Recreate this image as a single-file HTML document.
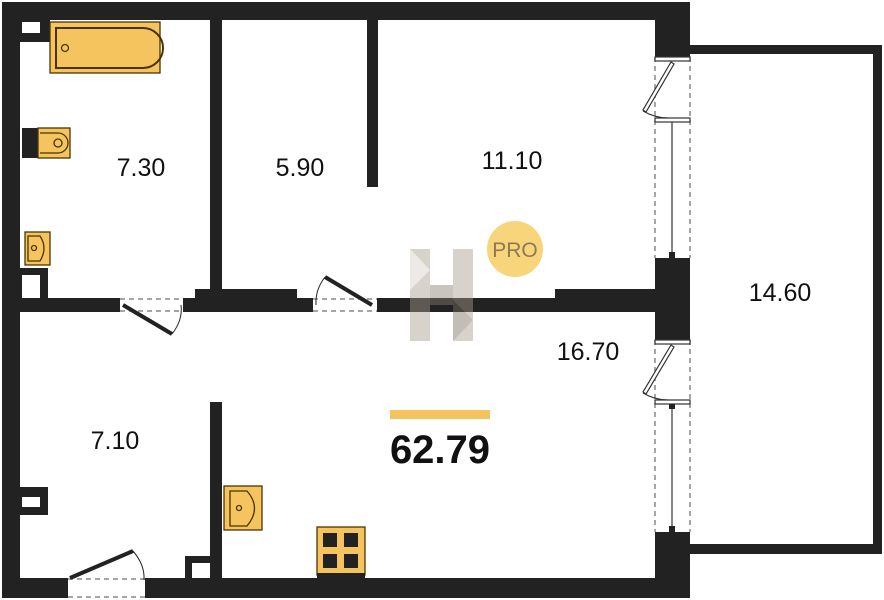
<!DOCTYPE html>
<html><head><meta charset="utf-8"><style>
html,body{margin:0;padding:0;background:#fff;width:884px;height:600px;overflow:hidden}
text{font-family:"Liberation Sans",sans-serif;fill:#111}
</style></head><body>
<svg width="884" height="600" viewBox="0 0 884 600" xmlns="http://www.w3.org/2000/svg">
<g fill="#222">
<rect x="2" y="2" width="688" height="18"/>
<rect x="2" y="2" width="18" height="596"/>
<rect x="2" y="578" width="66" height="20"/>
<rect x="145" y="578" width="545" height="20"/>
<rect x="655" y="2" width="35" height="55"/>
<rect x="655" y="258" width="35" height="82"/>
<rect x="655" y="532" width="35" height="66"/>
<rect x="690" y="45" width="192" height="9"/>
<rect x="873" y="45" width="9" height="509"/>
<rect x="690" y="544" width="192" height="10"/>
<rect x="210" y="20" width="12" height="278"/>
<rect x="367" y="20" width="11" height="167"/>
<rect x="20" y="298" width="100" height="14"/>
<rect x="183" y="298" width="130" height="14"/>
<rect x="195" y="289" width="102" height="12"/>
<rect x="377" y="298" width="278" height="14"/>
<rect x="555" y="289" width="100" height="12"/>
<rect x="210" y="402" width="12" height="178"/>
<rect x="20" y="20" width="30" height="22"/>
<rect x="20" y="268" width="28" height="32"/>
<rect x="20" y="487" width="28" height="28"/>
<rect x="185" y="556" width="27" height="24"/>
<rect x="22" y="128" width="16" height="30"/>
</g>
<g fill="#fff">
<rect x="22" y="22" width="18" height="11"/>
<rect x="22" y="275" width="18" height="23"/>
<rect x="22" y="497" width="18" height="10"/>
<rect x="192" y="563" width="18" height="15"/>
</g>
<g stroke="#888" stroke-dasharray="5,4" fill="none" stroke-width="1.5">
<line x1="120" y1="299" x2="183" y2="299"/><line x1="120" y1="311" x2="183" y2="311"/>
<line x1="313" y1="299" x2="377" y2="299"/><line x1="313" y1="311" x2="377" y2="311"/>
<line x1="68" y1="579" x2="145" y2="579"/><line x1="68" y1="597" x2="145" y2="597"/>
<line x1="655" y1="57" x2="655" y2="258"/><line x1="690" y1="57" x2="690" y2="258"/>
<line x1="655" y1="340" x2="655" y2="532"/><line x1="690" y1="340" x2="690" y2="532"/>
</g>
<g stroke="#222" stroke-width="4" fill="none">
<line x1="123" y1="305" x2="172" y2="334"/>
<line x1="372" y1="305" x2="325" y2="277"/>
<line x1="70" y1="578" x2="133" y2="551"/>
</g>
<g stroke="#222" stroke-width="1" fill="none">
<path d="M172 334 Q183 320 181 305"/>
<path d="M325 277 Q315 290 316 305"/>
<path d="M133 551 Q145 565 144 580"/>
</g>
<g stroke="#333" stroke-width="1.2" fill="#fff">
<rect x="655" y="57" width="35" height="4"/><rect x="655" y="118" width="35" height="4"/>
<rect x="655" y="340" width="35" height="4"/><rect x="655" y="400" width="35" height="4"/>
<path d="M671 62 L643 110 L646 112 L674 64 Z"/>
<path d="M671 345 L643 392 L646 394 L674 347 Z"/>
<path d="M643 111 Q655 118 668 118" fill="none"/>
<path d="M643 393 Q655 400 668 400" fill="none"/>
<line x1="672" y1="122" x2="672" y2="255"/>
<line x1="672" y1="404" x2="672" y2="530"/>
</g>
<g fill="#222"><rect x="669" y="252" width="6" height="6"/><rect x="669" y="526" width="6" height="6"/><rect x="669" y="404" width="6" height="5"/></g>
<g fill="#f6c45e" stroke="#4a3500" stroke-width="1.3">
<rect x="50" y="22" width="110" height="51"/>
<path d="M56 28 H143 A18 18 0 0 1 143 68 H56 Z" fill="none" stroke-width="2"/>
<circle cx="65" cy="48" r="3.5" fill="none"/>
<rect x="38" y="128" width="32" height="30"/>
<path d="M40 133 H58 A10 10 0 0 1 58 153 H40" fill="none"/>
<circle cx="58" cy="143" r="4" fill="none"/>
<rect x="25" y="232" width="25" height="33"/>
<path d="M28 236 H40 Q48 248 40 261 H28 Z" fill="none"/>
<circle cx="34" cy="248" r="2.5" fill="none"/>
<rect x="224" y="486" width="38" height="44"/>
<path d="M230 491 H247 Q262 508 247 526 H230 Z" fill="none"/>
<circle cx="239" cy="508" r="2.5" fill="none"/>
<rect x="317" y="527" width="48" height="48"/>
</g>
<g fill="#222"><rect x="323" y="533" width="14" height="14"/><rect x="344" y="533" width="14" height="14"/><rect x="323" y="554" width="14" height="14"/><rect x="344" y="554" width="14" height="14"/><rect x="317" y="573" width="48" height="5"/></g>
<g opacity="0.45">
<rect x="410" y="249" width="20" height="92" fill="#a89c8e"/>
<rect x="453" y="249" width="20" height="92" fill="#a89c8e"/>
<rect x="430" y="285" width="23" height="20" fill="#8a7e70"/>
<path d="M410 249 L430 270 L410 290 Z" fill="#d8d0c8"/>
<path d="M453 300 L473 320 L453 341 Z" fill="#7a6e60"/>
</g>
<circle cx="515" cy="249" r="28" fill="#f8d57a"/>
<text x="515" y="257" font-size="21" text-anchor="middle" style="fill:#8d7a55">PRO</text>
<g font-size="25" text-anchor="middle">
<text x="141" y="176">7.30</text>
<text x="300" y="176">5.90</text>
<text x="512" y="169">11.10</text>
<text x="780" y="301">14.60</text>
<text x="115" y="449">7.10</text>
<text x="588" y="360">16.70</text>
</g>
<rect x="390" y="410" width="100" height="9" fill="#f6c45e"/>
<text x="440" y="463" font-size="40" font-weight="bold" text-anchor="middle">62.79</text>
</svg>
</body></html>
